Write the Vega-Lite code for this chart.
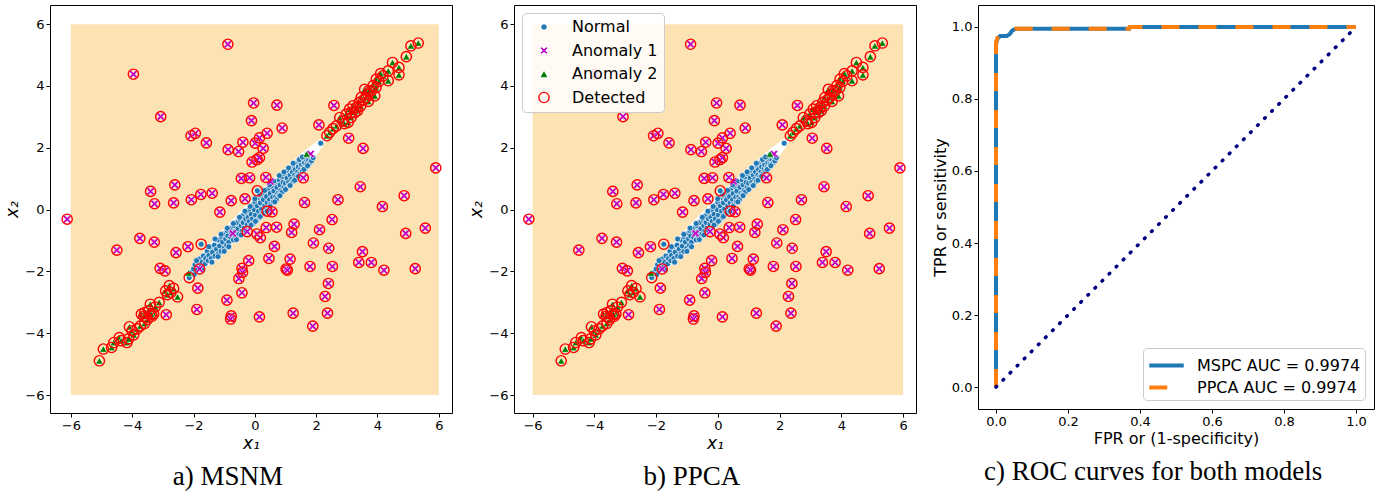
{
"$schema": "https://vega.github.io/schema/vega-lite/v6.json",
"padding": {"left": 3, "top": 4, "right": 5, "bottom": 0},
"background": "white",
"spacing": 14,
"datasets": {
"bg": [{"x": -6, "x2": 6, "y": -6, "y2": 6}],
"ell": [
{"x": -2.343, "y": -2.305, "y2": -2.305},
{"x": -2.3, "y": -2.343, "y2": -2.182},
{"x": -2.2, "y": -2.309, "y2": -2.0185},
{"x": -2.1, "y": -2.253, "y2": -1.878},
{"x": -2.0, "y": -2.187, "y2": -1.747},
{"x": -1.8, "y": -2.041, "y2": -1.5},
{"x": -1.5, "y": -1.8, "y2": -1.151},
{"x": -1.0, "y": -1.366, "y2": -0.6015},
{"x": -0.5, "y": -0.9046, "y2": -0.079},
{"x": 0, "y": -0.4225, "y2": 0.4225},
{"x": 0.5, "y": 0.079, "y2": 0.9046},
{"x": 1.0, "y": 0.6015, "y2": 1.366},
{"x": 1.5, "y": 1.151, "y2": 1.8},
{"x": 1.8, "y": 1.5, "y2": 2.041},
{"x": 2.0, "y": 1.747, "y2": 2.187},
{"x": 2.1, "y": 1.878, "y2": 2.253},
{"x": 2.2, "y": 2.0185, "y2": 2.309},
{"x": 2.3, "y": 2.182, "y2": 2.343},
{"x": 2.343, "y": 2.305, "y2": 2.305}
],
"pts": [
{"x":-2.12,"y":-2.05,"t":"Normal"},{"x":-1.98,"y":-2.1,"t":"Normal"},{"x":-2.0,"y":-1.92,"t":"Normal"},{"x":-1.95,"y":-1.78,"t":"Normal"},{"x":-1.88,"y":-1.95,"t":"Normal"},{"x":-1.85,"y":-1.72,"t":"Normal"},{"x":-1.8,"y":-1.6,"t":"Normal"},{"x":-1.75,"y":-1.85,"t":"Normal"},{"x":-1.72,"y":-1.7,"t":"Normal"},{"x":-1.68,"y":-1.5,"t":"Normal"},{"x":-1.62,"y":-1.75,"t":"Normal"},{"x":-1.6,"y":-1.58,"t":"Normal"},{"x":-1.55,"y":-1.35,"t":"Normal"},{"x":-1.52,"y":-1.65,"t":"Normal"},{"x":-1.5,"y":-1.48,"t":"Normal"},{"x":-1.45,"y":-1.22,"t":"Normal"},{"x":-1.42,"y":-1.58,"t":"Normal"},{"x":-1.38,"y":-1.38,"t":"Normal"},{"x":-1.32,"y":-1.15,"t":"Normal"},{"x":-1.3,"y":-1.5,"t":"Normal"},{"x":-1.25,"y":-1.28,"t":"Normal"},{"x":-1.2,"y":-0.98,"t":"Normal"},{"x":-1.18,"y":-1.42,"t":"Normal"},{"x":-1.15,"y":-1.18,"t":"Normal"},{"x":-1.1,"y":-1.35,"t":"Normal"},{"x":-1.08,"y":-0.9,"t":"Normal"},{"x":-1.05,"y":-1.05,"t":"Normal"},{"x":-1.0,"y":-1.25,"t":"Normal"},{"x":-0.98,"y":-0.78,"t":"Normal"},{"x":-0.95,"y":-0.95,"t":"Normal"},{"x":-0.92,"y":-1.15,"t":"Normal"},{"x":-0.9,"y":-0.68,"t":"Normal"},{"x":-0.88,"y":-0.85,"t":"Normal"},{"x":-0.85,"y":-1.05,"t":"Normal"},{"x":-0.8,"y":-0.6,"t":"Normal"},{"x":-0.78,"y":-0.9,"t":"Normal"},{"x":-0.75,"y":-0.75,"t":"Normal"},{"x":-0.7,"y":-0.98,"t":"Normal"},{"x":-0.68,"y":-0.52,"t":"Normal"},{"x":-0.65,"y":-0.72,"t":"Normal"},{"x":-0.62,"y":-0.88,"t":"Normal"},{"x":-0.58,"y":-0.42,"t":"Normal"},{"x":-0.55,"y":-0.62,"t":"Normal"},{"x":-0.52,"y":-0.8,"t":"Normal"},{"x":-0.48,"y":-0.32,"t":"Normal"},{"x":-0.45,"y":-0.52,"t":"Normal"},{"x":-0.42,"y":-0.7,"t":"Normal"},{"x":-0.4,"y":-0.2,"t":"Normal"},{"x":-0.38,"y":-0.42,"t":"Normal"},{"x":-0.35,"y":-0.6,"t":"Normal"},{"x":-0.3,"y":-0.3,"t":"Normal"},{"x":-0.28,"y":-0.1,"t":"Normal"},{"x":-0.25,"y":-0.48,"t":"Normal"},{"x":-0.22,"y":-0.25,"t":"Normal"},{"x":-0.2,"y":-0.02,"t":"Normal"},{"x":-0.18,"y":-0.38,"t":"Normal"},{"x":-0.15,"y":-0.55,"t":"Normal"},{"x":-0.12,"y":-0.15,"t":"Normal"},{"x":-0.1,"y":0.12,"t":"Normal"},{"x":-0.08,"y":-0.3,"t":"Normal"},{"x":-0.05,"y":-0.45,"t":"Normal"},{"x":-0.02,"y":0.0,"t":"Normal"},{"x":0.0,"y":0.25,"t":"Normal"},{"x":0.02,"y":-0.18,"t":"Normal"},{"x":0.05,"y":-0.35,"t":"Normal"},{"x":0.08,"y":0.12,"t":"Normal"},{"x":0.1,"y":0.38,"t":"Normal"},{"x":0.12,"y":-0.05,"t":"Normal"},{"x":0.15,"y":-0.25,"t":"Normal"},{"x":0.18,"y":0.22,"t":"Normal"},{"x":0.2,"y":0.45,"t":"Normal"},{"x":0.22,"y":0.02,"t":"Normal"},{"x":0.25,"y":-0.12,"t":"Normal"},{"x":0.28,"y":0.32,"t":"Normal"},{"x":0.3,"y":0.55,"t":"Normal"},{"x":0.32,"y":0.12,"t":"Normal"},{"x":0.35,"y":0.0,"t":"Normal"},{"x":0.38,"y":0.42,"t":"Normal"},{"x":0.4,"y":0.22,"t":"Normal"},{"x":0.42,"y":0.65,"t":"Normal"},{"x":0.45,"y":0.08,"t":"Normal"},{"x":0.48,"y":0.32,"t":"Normal"},{"x":0.5,"y":0.52,"t":"Normal"},{"x":0.52,"y":0.18,"t":"Normal"},{"x":0.55,"y":0.75,"t":"Normal"},{"x":0.58,"y":0.4,"t":"Normal"},{"x":0.6,"y":0.25,"t":"Normal"},{"x":0.62,"y":0.6,"t":"Normal"},{"x":0.65,"y":0.85,"t":"Normal"},{"x":0.68,"y":0.42,"t":"Normal"},{"x":0.7,"y":0.32,"t":"Normal"},{"x":0.72,"y":0.72,"t":"Normal"},{"x":0.75,"y":0.52,"t":"Normal"},{"x":0.78,"y":0.95,"t":"Normal"},{"x":0.8,"y":0.48,"t":"Normal"},{"x":0.82,"y":0.8,"t":"Normal"},{"x":0.85,"y":0.62,"t":"Normal"},{"x":0.88,"y":1.05,"t":"Normal"},{"x":0.9,"y":0.58,"t":"Normal"},{"x":0.92,"y":0.88,"t":"Normal"},{"x":0.95,"y":0.72,"t":"Normal"},{"x":0.98,"y":1.15,"t":"Normal"},{"x":1.0,"y":0.85,"t":"Normal"},{"x":1.02,"y":0.68,"t":"Normal"},{"x":1.05,"y":1.02,"t":"Normal"},{"x":1.08,"y":1.25,"t":"Normal"},{"x":1.1,"y":0.88,"t":"Normal"},{"x":1.12,"y":0.78,"t":"Normal"},{"x":1.15,"y":1.12,"t":"Normal"},{"x":1.18,"y":1.35,"t":"Normal"},{"x":1.2,"y":0.98,"t":"Normal"},{"x":1.22,"y":1.22,"t":"Normal"},{"x":1.25,"y":0.92,"t":"Normal"},{"x":1.28,"y":1.42,"t":"Normal"},{"x":1.3,"y":1.12,"t":"Normal"},{"x":1.32,"y":1.3,"t":"Normal"},{"x":1.35,"y":1.05,"t":"Normal"},{"x":1.38,"y":1.5,"t":"Normal"},{"x":1.4,"y":1.22,"t":"Normal"},{"x":1.42,"y":1.38,"t":"Normal"},{"x":1.45,"y":1.15,"t":"Normal"},{"x":1.48,"y":1.55,"t":"Normal"},{"x":1.5,"y":1.32,"t":"Normal"},{"x":1.52,"y":1.45,"t":"Normal"},{"x":1.55,"y":1.25,"t":"Normal"},{"x":1.58,"y":1.6,"t":"Normal"},{"x":1.6,"y":1.4,"t":"Normal"},{"x":1.62,"y":1.52,"t":"Normal"},{"x":1.65,"y":1.35,"t":"Normal"},{"x":1.68,"y":1.62,"t":"Normal"},{"x":1.7,"y":1.48,"t":"Normal"},{"x":1.75,"y":1.6,"t":"Normal"},{"x":1.78,"y":1.5,"t":"Normal"},{"x":1.82,"y":1.7,"t":"Normal"},{"x":1.85,"y":1.58,"t":"Normal"},{"x":1.9,"y":1.68,"t":"Normal"},{"x":2.15,"y":2.15,"t":"Normal"},
{"x":-1.9,"y":-1.65,"t":"Normal"},{"x":-1.7,"y":-1.95,"t":"Normal"},{"x":-1.5,"y":-1.2,"t":"Normal"},{"x":-1.4,"y":-1.7,"t":"Normal"},{"x":-1.3,"y":-0.95,"t":"Normal"},{"x":-1.2,"y":-1.52,"t":"Normal"},{"x":-1.1,"y":-0.8,"t":"Normal"},{"x":-1.0,"y":-1.35,"t":"Normal"},{"x":-0.9,"y":-0.6,"t":"Normal"},{"x":-0.85,"y":-1.2,"t":"Normal"},{"x":-0.7,"y":-0.45,"t":"Normal"},{"x":-0.6,"y":-0.97,"t":"Normal"},{"x":-0.5,"y":-0.25,"t":"Normal"},{"x":-0.45,"y":-0.82,"t":"Normal"},{"x":-0.32,"y":-0.05,"t":"Normal"},{"x":-0.3,"y":-0.68,"t":"Normal"},{"x":-0.15,"y":0.1,"t":"Normal"},{"x":-0.12,"y":-0.5,"t":"Normal"},{"x":0.0,"y":0.35,"t":"Normal"},{"x":0.02,"y":-0.38,"t":"Normal"},{"x":0.15,"y":0.5,"t":"Normal"},{"x":0.18,"y":-0.22,"t":"Normal"},{"x":0.32,"y":0.62,"t":"Normal"},{"x":0.3,"y":-0.1,"t":"Normal"},{"x":0.48,"y":0.8,"t":"Normal"},{"x":0.5,"y":0.1,"t":"Normal"},{"x":0.62,"y":0.92,"t":"Normal"},{"x":0.65,"y":0.25,"t":"Normal"},{"x":0.8,"y":1.1,"t":"Normal"},{"x":0.82,"y":0.45,"t":"Normal"},{"x":0.95,"y":1.22,"t":"Normal"},{"x":1.0,"y":0.65,"t":"Normal"},{"x":1.1,"y":1.35,"t":"Normal"},{"x":1.15,"y":0.78,"t":"Normal"},{"x":1.25,"y":1.5,"t":"Normal"},{"x":1.3,"y":0.95,"t":"Normal"},{"x":1.45,"y":1.62,"t":"Normal"},{"x":1.42,"y":1.08,"t":"Normal"},{"x":1.55,"y":1.7,"t":"Normal"},{"x":1.6,"y":1.3,"t":"Normal"},{"x":1.72,"y":1.8,"t":"Normal"},{"x":1.72,"y":1.42,"t":"Normal"},
{"x":0.08,"y":0.61,"t":"Normal","d":1},{"x":-1.75,"y":-1.12,"t":"Normal","d":1},{"x":0.4,"y":-0.05,"t":"Normal","d":1},{"x":-2.14,"y":-2.2,"t":"Normal","d":1},
{"x":-0.88,"y":5.35,"t":"Anomaly 1","d":1},{"x":-3.96,"y":4.38,"t":"Anomaly 1","d":1},{"x":-3.07,"y":3.01,"t":"Anomaly 1","d":1},{"x":-0.04,"y":3.45,"t":"Anomaly 1","d":1},{"x":0.72,"y":3.38,"t":"Anomaly 1","d":1},{"x":2.58,"y":3.37,"t":"Anomaly 1","d":1},{"x":-0.11,"y":2.88,"t":"Anomaly 1","d":1},{"x":0.89,"y":2.64,"t":"Anomaly 1","d":1},{"x":2.09,"y":2.74,"t":"Anomaly 1","d":1},{"x":-2.08,"y":2.39,"t":"Anomaly 1","d":1},{"x":-1.94,"y":2.47,"t":"Anomaly 1","d":1},{"x":-1.58,"y":2.16,"t":"Anomaly 1","d":1},{"x":-0.87,"y":1.94,"t":"Anomaly 1","d":1},{"x":-0.53,"y":1.88,"t":"Anomaly 1","d":1},{"x":-0.39,"y":2.18,"t":"Anomaly 1","d":1},{"x":0.01,"y":2.15,"t":"Anomaly 1","d":1},{"x":0.15,"y":2.32,"t":"Anomaly 1","d":1},{"x":0.27,"y":1.98,"t":"Anomaly 1","d":1},{"x":0.4,"y":2.47,"t":"Anomaly 1","d":1},{"x":-0.09,"y":1.54,"t":"Anomaly 1","d":1},{"x":0.07,"y":1.62,"t":"Anomaly 1","d":1},{"x":0.15,"y":1.68,"t":"Anomaly 1","d":1},{"x":3.06,"y":2.31,"t":"Anomaly 1","d":1},{"x":3.53,"y":1.98,"t":"Anomaly 1","d":1},{"x":5.9,"y":1.35,"t":"Anomaly 1","d":1},{"x":-0.44,"y":1.01,"t":"Anomaly 1","d":1},{"x":-0.17,"y":1.03,"t":"Anomaly 1","d":1},{"x":0.36,"y":1.04,"t":"Anomaly 1","d":1},{"x":1.58,"y":1.03,"t":"Anomaly 1","d":1},{"x":-2.61,"y":0.8,"t":"Anomaly 1","d":1},{"x":-3.4,"y":0.59,"t":"Anomaly 1","d":1},{"x":-2.07,"y":0.32,"t":"Anomaly 1","d":1},{"x":-1.76,"y":0.49,"t":"Anomaly 1","d":1},{"x":-1.39,"y":0.53,"t":"Anomaly 1","d":1},{"x":-3.27,"y":0.19,"t":"Anomaly 1","d":1},{"x":-2.65,"y":0.22,"t":"Anomaly 1","d":1},{"x":-0.77,"y":0.29,"t":"Anomaly 1","d":1},{"x":-0.32,"y":0.35,"t":"Anomaly 1","d":1},{"x":-1.14,"y":-0.08,"t":"Anomaly 1","d":1},{"x":1.62,"y":0.23,"t":"Anomaly 1","d":1},{"x":2.71,"y":0.32,"t":"Anomaly 1","d":1},{"x":3.44,"y":0.74,"t":"Anomaly 1","d":1},{"x":4.16,"y":0.1,"t":"Anomaly 1","d":1},{"x":4.87,"y":0.45,"t":"Anomaly 1","d":1},{"x":5.56,"y":-0.6,"t":"Anomaly 1","d":1},{"x":4.92,"y":-0.77,"t":"Anomaly 1","d":1},{"x":-6.12,"y":-0.31,"t":"Anomaly 1","d":1},{"x":-3.75,"y":-0.93,"t":"Anomaly 1","d":1},{"x":-3.28,"y":-1.05,"t":"Anomaly 1","d":1},{"x":-4.5,"y":-1.31,"t":"Anomaly 1","d":1},{"x":-2.57,"y":-1.39,"t":"Anomaly 1","d":1},{"x":-2.18,"y":-1.2,"t":"Anomaly 1","d":1},{"x":-0.25,"y":-0.71,"t":"Anomaly 1","d":1},{"x":0.07,"y":-0.79,"t":"Anomaly 1","d":1},{"x":0.18,"y":-0.91,"t":"Anomaly 1","d":1},{"x":0.37,"y":-0.58,"t":"Anomaly 1","d":1},{"x":0.71,"y":-0.57,"t":"Anomaly 1","d":1},{"x":1.2,"y":-0.74,"t":"Anomaly 1","d":1},{"x":1.28,"y":-0.47,"t":"Anomaly 1","d":1},{"x":2.11,"y":-0.65,"t":"Anomaly 1","d":1},{"x":2.52,"y":-0.32,"t":"Anomaly 1","d":1},{"x":0.64,"y":-1.19,"t":"Anomaly 1","d":1},{"x":1.91,"y":-1.08,"t":"Anomaly 1","d":1},{"x":2.41,"y":-1.25,"t":"Anomaly 1","d":1},{"x":3.51,"y":-1.36,"t":"Anomaly 1","d":1},{"x":-0.2,"y":-1.65,"t":"Anomaly 1","d":1},{"x":0.46,"y":-1.58,"t":"Anomaly 1","d":1},{"x":1.15,"y":-1.6,"t":"Anomaly 1","d":1},{"x":3.39,"y":-1.71,"t":"Anomaly 1","d":1},{"x":3.8,"y":-1.71,"t":"Anomaly 1","d":1},{"x":4.21,"y":-1.96,"t":"Anomaly 1","d":1},{"x":5.23,"y":-1.91,"t":"Anomaly 1","d":1},{"x":1.8,"y":-1.84,"t":"Anomaly 1","d":1},{"x":2.53,"y":-1.84,"t":"Anomaly 1","d":1},{"x":1.02,"y":-1.92,"t":"Anomaly 1","d":1},{"x":1.06,"y":-1.96,"t":"Anomaly 1","d":1},{"x":-3.09,"y":-1.9,"t":"Anomaly 1","d":1},{"x":-2.93,"y":-1.98,"t":"Anomaly 1","d":1},{"x":-1.8,"y":-1.92,"t":"Anomaly 1","d":1},{"x":-0.42,"y":-1.9,"t":"Anomaly 1","d":1},{"x":-0.4,"y":-2.03,"t":"Anomaly 1","d":1},{"x":-0.52,"y":-2.23,"t":"Anomaly 1","d":1},{"x":2.4,"y":-2.39,"t":"Anomaly 1","d":1},{"x":-1.86,"y":-2.54,"t":"Anomaly 1","d":1},{"x":-0.42,"y":-2.69,"t":"Anomaly 1","d":1},{"x":2.29,"y":-2.81,"t":"Anomaly 1","d":1},{"x":-0.91,"y":-2.93,"t":"Anomaly 1","d":1},{"x":-1.89,"y":-3.23,"t":"Anomaly 1","d":1},{"x":-2.89,"y":-3.4,"t":"Anomaly 1","d":1},{"x":-0.77,"y":-3.44,"t":"Anomaly 1","d":1},{"x":-0.79,"y":-3.54,"t":"Anomaly 1","d":1},{"x":0.15,"y":-3.47,"t":"Anomaly 1","d":1},{"x":1.25,"y":-3.35,"t":"Anomaly 1","d":1},{"x":2.37,"y":-3.35,"t":"Anomaly 1","d":1},{"x":1.89,"y":-3.77,"t":"Anomaly 1","d":1},{"x":0.56,"y":-0.07,"t":"Anomaly 1","d":1},
{"x":-0.72,"y":-0.77,"t":"Anomaly 1"},{"x":0.51,"y":0.91,"t":"Anomaly 1"},{"x":1.82,"y":1.8,"t":"Anomaly 1"},
{"x":5.33,"y":5.39,"t":"Anomaly 2","d":1},{"x":5.09,"y":5.3,"t":"Anomaly 2","d":1},{"x":4.94,"y":4.95,"t":"Anomaly 2","d":1},{"x":4.49,"y":4.76,"t":"Anomaly 2","d":1},{"x":4.7,"y":4.6,"t":"Anomaly 2","d":1},{"x":4.7,"y":4.36,"t":"Anomaly 2","d":1},{"x":4.35,"y":4.49,"t":"Anomaly 2","d":1},{"x":4.18,"y":4.33,"t":"Anomaly 2","d":1},{"x":4.1,"y":4.4,"t":"Anomaly 2","d":1},{"x":3.96,"y":4.22,"t":"Anomaly 2","d":1},{"x":4.35,"y":4.17,"t":"Anomaly 2","d":1},{"x":3.86,"y":4.01,"t":"Anomaly 2","d":1},{"x":3.8,"y":3.84,"t":"Anomaly 2","d":1},{"x":3.91,"y":3.68,"t":"Anomaly 2","d":1},{"x":3.69,"y":3.73,"t":"Anomaly 2","d":1},{"x":3.58,"y":3.89,"t":"Anomaly 2","d":1},{"x":3.47,"y":3.63,"t":"Anomaly 2","d":1},{"x":3.4,"y":3.47,"t":"Anomaly 2","d":1},{"x":3.31,"y":3.3,"t":"Anomaly 2","d":1},{"x":3.2,"y":3.36,"t":"Anomaly 2","d":1},{"x":3.26,"y":3.14,"t":"Anomaly 2","d":1},{"x":3.09,"y":3.25,"t":"Anomaly 2","d":1},{"x":2.98,"y":3.09,"t":"Anomaly 2","d":1},{"x":3.14,"y":2.98,"t":"Anomaly 2","d":1},{"x":2.87,"y":2.87,"t":"Anomaly 2","d":1},{"x":2.77,"y":2.98,"t":"Anomaly 2","d":1},{"x":3.04,"y":2.82,"t":"Anomaly 2","d":1},{"x":2.66,"y":2.71,"t":"Anomaly 2","d":1},{"x":2.44,"y":2.5,"t":"Anomaly 2","d":1},{"x":2.35,"y":2.39,"t":"Anomaly 2","d":1},{"x":3.55,"y":3.55,"t":"Anomaly 2","d":1},{"x":3.62,"y":3.62,"t":"Anomaly 2","d":1},{"x":3.72,"y":3.85,"t":"Anomaly 2","d":1},{"x":3.45,"y":3.35,"t":"Anomaly 2","d":1},{"x":3.35,"y":3.2,"t":"Anomaly 2","d":1},{"x":4.05,"y":4.15,"t":"Anomaly 2","d":1},{"x":3.95,"y":3.95,"t":"Anomaly 2","d":1},{"x":3.15,"y":3.15,"t":"Anomaly 2","d":1},{"x":2.92,"y":2.78,"t":"Anomaly 2","d":1},{"x":3.7,"y":3.5,"t":"Anomaly 2","d":1},{"x":2.55,"y":2.62,"t":"Anomaly 2","d":1},
{"x":-5.07,"y":-4.89,"t":"Anomaly 2","d":1},{"x":-4.94,"y":-4.51,"t":"Anomaly 2","d":1},{"x":-4.67,"y":-4.46,"t":"Anomaly 2","d":1},{"x":-4.6,"y":-4.3,"t":"Anomaly 2","d":1},{"x":-4.42,"y":-4.14,"t":"Anomaly 2","d":1},{"x":-4.36,"y":-4.24,"t":"Anomaly 2","d":1},{"x":-4.17,"y":-4.3,"t":"Anomaly 2","d":1},{"x":-4.09,"y":-3.79,"t":"Anomaly 2","d":1},{"x":-4.0,"y":-3.92,"t":"Anomaly 2","d":1},{"x":-3.84,"y":-3.86,"t":"Anomaly 2","d":1},{"x":-3.73,"y":-3.76,"t":"Anomaly 2","d":1},{"x":-3.59,"y":-3.68,"t":"Anomaly 2","d":1},{"x":-3.7,"y":-3.38,"t":"Anomaly 2","d":1},{"x":-3.59,"y":-3.33,"t":"Anomaly 2","d":1},{"x":-3.46,"y":-3.27,"t":"Anomaly 2","d":1},{"x":-3.3,"y":-3.38,"t":"Anomaly 2","d":1},{"x":-3.41,"y":-3.06,"t":"Anomaly 2","d":1},{"x":-3.12,"y":-3.0,"t":"Anomaly 2","d":1},{"x":-3.55,"y":-3.49,"t":"Anomaly 2","d":1},{"x":-3.35,"y":-3.45,"t":"Anomaly 2","d":1},{"x":-3.5,"y":-3.55,"t":"Anomaly 2","d":1},{"x":-3.25,"y":-3.15,"t":"Anomaly 2","d":1},{"x":-2.79,"y":-2.46,"t":"Anomaly 2","d":1},{"x":-2.91,"y":-2.63,"t":"Anomaly 2","d":1},{"x":-2.74,"y":-2.68,"t":"Anomaly 2","d":1},{"x":-2.52,"y":-2.82,"t":"Anomaly 2","d":1},{"x":-2.85,"y":-2.75,"t":"Anomaly 2","d":1},{"x":-2.65,"y":-2.55,"t":"Anomaly 2","d":1},{"x":-3.95,"y":-4.05,"t":"Anomaly 2","d":1},{"x":-4.12,"y":-4.18,"t":"Anomaly 2","d":1},{"x":-3.38,"y":-3.38,"t":"Anomaly 2","d":1},{"x":-3.62,"y":-3.45,"t":"Anomaly 2","d":1},
{"x":1.69,"y":1.8,"t":"Anomaly 2"},{"x":-2.16,"y":-2.05,"t":"Anomaly 2"}
],
"roc": [
{"fpr":0,"tpr":0,"m":"MSPC AUC = 0.9974","i":0},{"fpr":0,"tpr":0.95,"m":"MSPC AUC = 0.9974","i":1},{"fpr":0.002,"tpr":0.962,"m":"MSPC AUC = 0.9974","i":2},{"fpr":0.006,"tpr":0.97,"m":"MSPC AUC = 0.9974","i":3},{"fpr":0.012,"tpr":0.975,"m":"MSPC AUC = 0.9974","i":4},{"fpr":0.03,"tpr":0.975,"m":"MSPC AUC = 0.9974","i":5},{"fpr":0.038,"tpr":0.98,"m":"MSPC AUC = 0.9974","i":6},{"fpr":0.045,"tpr":0.99,"m":"MSPC AUC = 0.9974","i":7},{"fpr":0.055,"tpr":0.995,"m":"MSPC AUC = 0.9974","i":8},{"fpr":0.37,"tpr":0.995,"m":"MSPC AUC = 0.9974","i":9},{"fpr":0.372,"tpr":1.0,"m":"MSPC AUC = 0.9974","i":10},{"fpr":1.0,"tpr":1.0,"m":"MSPC AUC = 0.9974","i":11},
{"fpr":0,"tpr":0,"m":"PPCA AUC = 0.9974","i":0},{"fpr":0,"tpr":0.955,"m":"PPCA AUC = 0.9974","i":1},{"fpr":0.003,"tpr":0.968,"m":"PPCA AUC = 0.9974","i":2},{"fpr":0.008,"tpr":0.974,"m":"PPCA AUC = 0.9974","i":3},{"fpr":0.015,"tpr":0.977,"m":"PPCA AUC = 0.9974","i":4},{"fpr":0.03,"tpr":0.977,"m":"PPCA AUC = 0.9974","i":5},{"fpr":0.04,"tpr":0.982,"m":"PPCA AUC = 0.9974","i":6},{"fpr":0.047,"tpr":0.992,"m":"PPCA AUC = 0.9974","i":7},{"fpr":0.055,"tpr":0.995,"m":"PPCA AUC = 0.9974","i":8},{"fpr":0.37,"tpr":0.995,"m":"PPCA AUC = 0.9974","i":9},{"fpr":0.372,"tpr":1.0,"m":"PPCA AUC = 0.9974","i":10},{"fpr":1.0,"tpr":1.0,"m":"PPCA AUC = 0.9974","i":11}
],
"diag": [{"fpr":0,"tpr":0},{"fpr":1,"tpr":1}]
},
"hconcat": [
{
"width": 402, "height": 408,
"title": {"text": "a) MSNM"},
"encoding": {
"x": {"field": "x", "type": "quantitative", "scale": {"domain": [-6.68, 6.43], "nice": false, "zero": false}, "axis": {"title": "x₁", "values": [-6,-4,-2,0,2,4,6], "titleFontStyle": "italic", "titleFontSize": 17}},
"y": {"field": "y", "type": "quantitative", "scale": {"domain": [-6.58, 6.62], "nice": false, "zero": false}, "axis": {"title": "x₂", "values": [-6,-4,-2,0,2,4,6], "titleFontStyle": "italic", "titleFontSize": 17}}
},
"layer": [
{"data": {"name": "bg"}, "mark": {"type": "rect", "color": "#fde3b3"}, "encoding": {"x2": {"field": "x2"}, "y2": {"field": "y2"}}},
{"data": {"name": "ell"}, "mark": {"type": "area", "color": "#ffffff", "opacity": 1}, "encoding": {"y2": {"field": "y2"}}},
{"data": {"name": "pts"}, "transform": [{"filter": "datum.t=='Normal'"}], "mark": {"type": "point", "size": 36, "strokeWidth": 0.7, "opacity": 1},
 "encoding": {
  "fill": {"field": "t", "type": "nominal", "scale": {"domain": ["Normal","Anomaly 1","Anomaly 2","Detected"], "range": ["#1f77b4","#bf00bf","#008000","transparent"]}, "legend": null},
  "stroke": {"field": "t", "type": "nominal", "scale": {"domain": ["Normal","Anomaly 1","Anomaly 2","Detected"], "range": ["#ffffff","#ffffff","#ffffff","#ff0000"]}, "legend": null},
  "shape": {"field": "t", "type": "nominal", "scale": {"domain": ["Normal","Anomaly 1","Anomaly 2","Detected"], "range": ["circle","M-1,-0.6L-0.6,-1L0,-0.4L0.6,-1L1,-0.6L0.4,0L1,0.6L0.6,1L0,0.4L-0.6,1L-1,0.6L-0.4,0Z","triangle-up","circle"]}, "legend": null}}},
{"data": {"name": "pts"}, "transform": [{"filter": "datum.t=='Anomaly 1'"}], "mark": {"type": "point", "size": 64, "strokeWidth": 0.6, "opacity": 1},
 "encoding": {
  "fill": {"field": "t", "type": "nominal", "scale": {"domain": ["Normal","Anomaly 1","Anomaly 2","Detected"], "range": ["#1f77b4","#bf00bf","#008000","transparent"]}, "legend": null},
  "stroke": {"field": "t", "type": "nominal", "scale": {"domain": ["Normal","Anomaly 1","Anomaly 2","Detected"], "range": ["#ffffff","#ffffff","#ffffff","#ff0000"]}, "legend": null},
  "shape": {"field": "t", "type": "nominal", "scale": {"domain": ["Normal","Anomaly 1","Anomaly 2","Detected"], "range": ["circle","M-1,-0.6L-0.6,-1L0,-0.4L0.6,-1L1,-0.6L0.4,0L1,0.6L0.6,1L0,0.4L-0.6,1L-1,0.6L-0.4,0Z","triangle-up","circle"]}, "legend": null}}},
{"data": {"name": "pts"}, "transform": [{"filter": "datum.t=='Anomaly 2'"}], "mark": {"type": "point", "size": 58, "strokeWidth": 0.6, "opacity": 1},
 "encoding": {
  "fill": {"field": "t", "type": "nominal", "scale": {"domain": ["Normal","Anomaly 1","Anomaly 2","Detected"], "range": ["#1f77b4","#bf00bf","#008000","transparent"]}, "legend": null},
  "stroke": {"field": "t", "type": "nominal", "scale": {"domain": ["Normal","Anomaly 1","Anomaly 2","Detected"], "range": ["#ffffff","#ffffff","#ffffff","#ff0000"]}, "legend": null},
  "shape": {"field": "t", "type": "nominal", "scale": {"domain": ["Normal","Anomaly 1","Anomaly 2","Detected"], "range": ["circle","M-1,-0.6L-0.6,-1L0,-0.4L0.6,-1L1,-0.6L0.4,0L1,0.6L0.6,1L0,0.4L-0.6,1L-1,0.6L-0.4,0Z","triangle-up","circle"]}, "legend": null}}},
{"data": {"name": "pts"}, "transform": [{"filter": "datum.d==1"}], "mark": {"type": "point", "opacity": 1},
 "encoding": {
  "fill": {"datum": "Detected", "type": "nominal", "scale": {"domain": ["Normal","Anomaly 1","Anomaly 2","Detected"], "range": ["#1f77b4","#bf00bf","#008000","transparent"]}, "legend": null},
  "stroke": {"datum": "Detected", "type": "nominal", "scale": {"domain": ["Normal","Anomaly 1","Anomaly 2","Detected"], "range": ["#ffffff","#ffffff","#ffffff","#ff0000"]}, "legend": null},
  "shape": {"datum": "Detected", "type": "nominal", "scale": {"domain": ["Normal","Anomaly 1","Anomaly 2","Detected"], "range": ["circle","M-1,-0.6L-0.6,-1L0,-0.4L0.6,-1L1,-0.6L0.4,0L1,0.6L0.6,1L0,0.4L-0.6,1L-1,0.6L-0.4,0Z","triangle-up","circle"]}, "legend": null},
  "size": {"datum": "Detected", "type": "nominal", "scale": {"domain": ["Normal","Anomaly 1","Anomaly 2","Detected"], "range": [36, 105]}, "legend": null},
  "strokeWidth": {"datum": "Detected", "type": "nominal", "scale": {"domain": ["Normal","Anomaly 1","Anomaly 2","Detected"], "range": [0.6, 1.4]}, "legend": null}}}
]
},
{
"width": 402, "height": 408,
"title": {"text": "b) PPCA"},
"encoding": {
"x": {"field": "x", "type": "quantitative", "scale": {"domain": [-6.6, 6.42], "nice": false, "zero": false}, "axis": {"title": "x₁", "values": [-6,-4,-2,0,2,4,6], "titleFontStyle": "italic", "titleFontSize": 17}},
"y": {"field": "y", "type": "quantitative", "scale": {"domain": [-6.58, 6.62], "nice": false, "zero": false}, "axis": {"title": "x₂", "values": [-6,-4,-2,0,2,4,6], "titleFontStyle": "italic", "titleFontSize": 17}}
},
"layer": [
{"data": {"name": "bg"}, "mark": {"type": "rect", "color": "#fde3b3"}, "encoding": {"x2": {"field": "x2"}, "y2": {"field": "y2"}}},
{"data": {"name": "ell"}, "mark": {"type": "area", "color": "#ffffff", "opacity": 1}, "encoding": {"y2": {"field": "y2"}}},
{"data": {"name": "pts"}, "transform": [{"filter": "datum.t=='Normal'"}], "mark": {"type": "point", "size": 36, "strokeWidth": 0.7, "opacity": 1},
 "encoding": {
  "fill": {"field": "t", "type": "nominal", "scale": {"domain": ["Normal","Anomaly 1","Anomaly 2","Detected"], "range": ["#1f77b4","#bf00bf","#008000","transparent"]}, "legend": {"title": null}},
  "stroke": {"field": "t", "type": "nominal", "scale": {"domain": ["Normal","Anomaly 1","Anomaly 2","Detected"], "range": ["#ffffff","#ffffff","#ffffff","#ff0000"]}, "legend": {"title": null}},
  "shape": {"field": "t", "type": "nominal", "scale": {"domain": ["Normal","Anomaly 1","Anomaly 2","Detected"], "range": ["circle","M-1,-0.6L-0.6,-1L0,-0.4L0.6,-1L1,-0.6L0.4,0L1,0.6L0.6,1L0,0.4L-0.6,1L-1,0.6L-0.4,0Z","triangle-up","circle"]}, "legend": {"title": null}}}},
{"data": {"name": "pts"}, "transform": [{"filter": "datum.t=='Anomaly 1'"}], "mark": {"type": "point", "size": 64, "strokeWidth": 0.6, "opacity": 1},
 "encoding": {
  "fill": {"field": "t", "type": "nominal", "scale": {"domain": ["Normal","Anomaly 1","Anomaly 2","Detected"], "range": ["#1f77b4","#bf00bf","#008000","transparent"]}, "legend": {"title": null}},
  "stroke": {"field": "t", "type": "nominal", "scale": {"domain": ["Normal","Anomaly 1","Anomaly 2","Detected"], "range": ["#ffffff","#ffffff","#ffffff","#ff0000"]}, "legend": {"title": null}},
  "shape": {"field": "t", "type": "nominal", "scale": {"domain": ["Normal","Anomaly 1","Anomaly 2","Detected"], "range": ["circle","M-1,-0.6L-0.6,-1L0,-0.4L0.6,-1L1,-0.6L0.4,0L1,0.6L0.6,1L0,0.4L-0.6,1L-1,0.6L-0.4,0Z","triangle-up","circle"]}, "legend": {"title": null}}}},
{"data": {"name": "pts"}, "transform": [{"filter": "datum.t=='Anomaly 2'"}], "mark": {"type": "point", "size": 58, "strokeWidth": 0.6, "opacity": 1},
 "encoding": {
  "fill": {"field": "t", "type": "nominal", "scale": {"domain": ["Normal","Anomaly 1","Anomaly 2","Detected"], "range": ["#1f77b4","#bf00bf","#008000","transparent"]}, "legend": {"title": null}},
  "stroke": {"field": "t", "type": "nominal", "scale": {"domain": ["Normal","Anomaly 1","Anomaly 2","Detected"], "range": ["#ffffff","#ffffff","#ffffff","#ff0000"]}, "legend": {"title": null}},
  "shape": {"field": "t", "type": "nominal", "scale": {"domain": ["Normal","Anomaly 1","Anomaly 2","Detected"], "range": ["circle","M-1,-0.6L-0.6,-1L0,-0.4L0.6,-1L1,-0.6L0.4,0L1,0.6L0.6,1L0,0.4L-0.6,1L-1,0.6L-0.4,0Z","triangle-up","circle"]}, "legend": {"title": null}}}},
{"data": {"name": "pts"}, "transform": [{"filter": "datum.d==1"}], "mark": {"type": "point", "opacity": 1},
 "encoding": {
  "fill": {"datum": "Detected", "type": "nominal", "scale": {"domain": ["Normal","Anomaly 1","Anomaly 2","Detected"], "range": ["#1f77b4","#bf00bf","#008000","transparent"]}, "legend": {"title": null}},
  "stroke": {"datum": "Detected", "type": "nominal", "scale": {"domain": ["Normal","Anomaly 1","Anomaly 2","Detected"], "range": ["#ffffff","#ffffff","#ffffff","#ff0000"]}, "legend": {"title": null}},
  "shape": {"datum": "Detected", "type": "nominal", "scale": {"domain": ["Normal","Anomaly 1","Anomaly 2","Detected"], "range": ["circle","M-1,-0.6L-0.6,-1L0,-0.4L0.6,-1L1,-0.6L0.4,0L1,0.6L0.6,1L0,0.4L-0.6,1L-1,0.6L-0.4,0Z","triangle-up","circle"]}, "legend": {"title": null}},
  "size": {"datum": "Detected", "type": "nominal", "scale": {"domain": ["Normal","Anomaly 1","Anomaly 2","Detected"], "range": [36, 105]}, "legend": {"title": null}},
  "strokeWidth": {"datum": "Detected", "type": "nominal", "scale": {"domain": ["Normal","Anomaly 1","Anomaly 2","Detected"], "range": [0.6, 1.4]}, "legend": {"title": null}}}}
]
},
{
"width": 396, "height": 404,
"title": {"text": "c) ROC curves for both models"},
"encoding": {
"x": {"field": "fpr", "type": "quantitative", "scale": {"domain": [-0.05, 1.05], "nice": false, "zero": false}, "axis": {"title": "FPR or (1-specificity)", "values": [0,0.2,0.4,0.6,0.8,1], "format": ".1f", "titlePadding": 2}},
"y": {"field": "tpr", "type": "quantitative", "scale": {"domain": [-0.061, 1.061], "nice": false, "zero": false}, "axis": {"title": "TPR or sensitivity", "values": [0,0.2,0.4,0.6,0.8,1], "format": ".1f", "titlePadding": 3}}
},
"layer": [
{"data": {"name": "roc"}, "mark": {"type": "line", "strokeWidth": 4, "strokeCap": "butt"},
 "encoding": {
  "color": {"field": "m", "type": "nominal", "scale": {"domain": ["MSPC AUC = 0.9974","PPCA AUC = 0.9974"], "range": ["#1f77b4","#ff7f0e"]},
   "legend": {"title": null, "orient": "bottom-right", "offset": 9, "padding": 4, "symbolType": "M-1.5,0L1.5,0", "symbolSize": 529, "symbolStrokeWidth": 4, "rowPadding": 0, "labelOffset": 17, "symbolOffset": 6}},
  "strokeDash": {"field": "m", "type": "nominal", "scale": {"domain": ["MSPC AUC = 0.9974","PPCA AUC = 0.9974"], "range": [[1,0],[18,19]]},
   "legend": {"title": null, "orient": "bottom-right", "offset": 9, "padding": 4, "symbolType": "M-1.5,0L1.5,0", "symbolSize": 529, "symbolStrokeWidth": 4, "rowPadding": 0, "labelOffset": 17, "symbolOffset": 6}},
  "order": {"field": "i", "type": "quantitative"}
 }},
{"data": {"name": "diag"}, "mark": {"type": "line", "color": "#000080", "strokeWidth": 3.5, "strokeDash": [0.8, 9.2], "strokeCap": "round"}, "encoding": {}}
]
}
],
"resolve": {"scale": {"fill": "independent", "stroke": "independent", "shape": "independent", "size": "independent", "strokeWidth": "independent", "color": "independent", "strokeDash": "independent"}},
"config": {
"font": "DejaVu Sans",
"view": {"stroke": "#000000", "strokeWidth": 1},
"axis": {"domain": false, "grid": false, "ticks": true, "tickColor": "#000000", "tickSize": 4, "tickWidth": 1, "labelFont": "DejaVu Sans", "labelFontSize": 13, "labelColor": "#000000", "labelPadding": 2, "labelFlush": false, "labelOverlap": false, "titleFont": "DejaVu Sans", "titleFontSize": 16, "titleFontWeight": "normal", "titleColor": "#000000", "titlePadding": 3},
"legend": {"orient": "top-left", "offset": 8, "padding": 6, "fillColor": "rgba(255,255,255,0.85)", "strokeColor": "#cccccc", "cornerRadius": 4, "labelFontSize": 16, "labelFont": "DejaVu Sans", "labelColor": "#000000", "labelLimit": 300, "rowPadding": 7.5, "symbolOffset": 8, "labelOffset": 20},
"title": {"orient": "bottom", "font": "Liberation Serif", "fontSize": 27, "fontWeight": "normal", "color": "#000000", "offset": 13, "anchor": "middle", "frame": "bounds"}
}
}
